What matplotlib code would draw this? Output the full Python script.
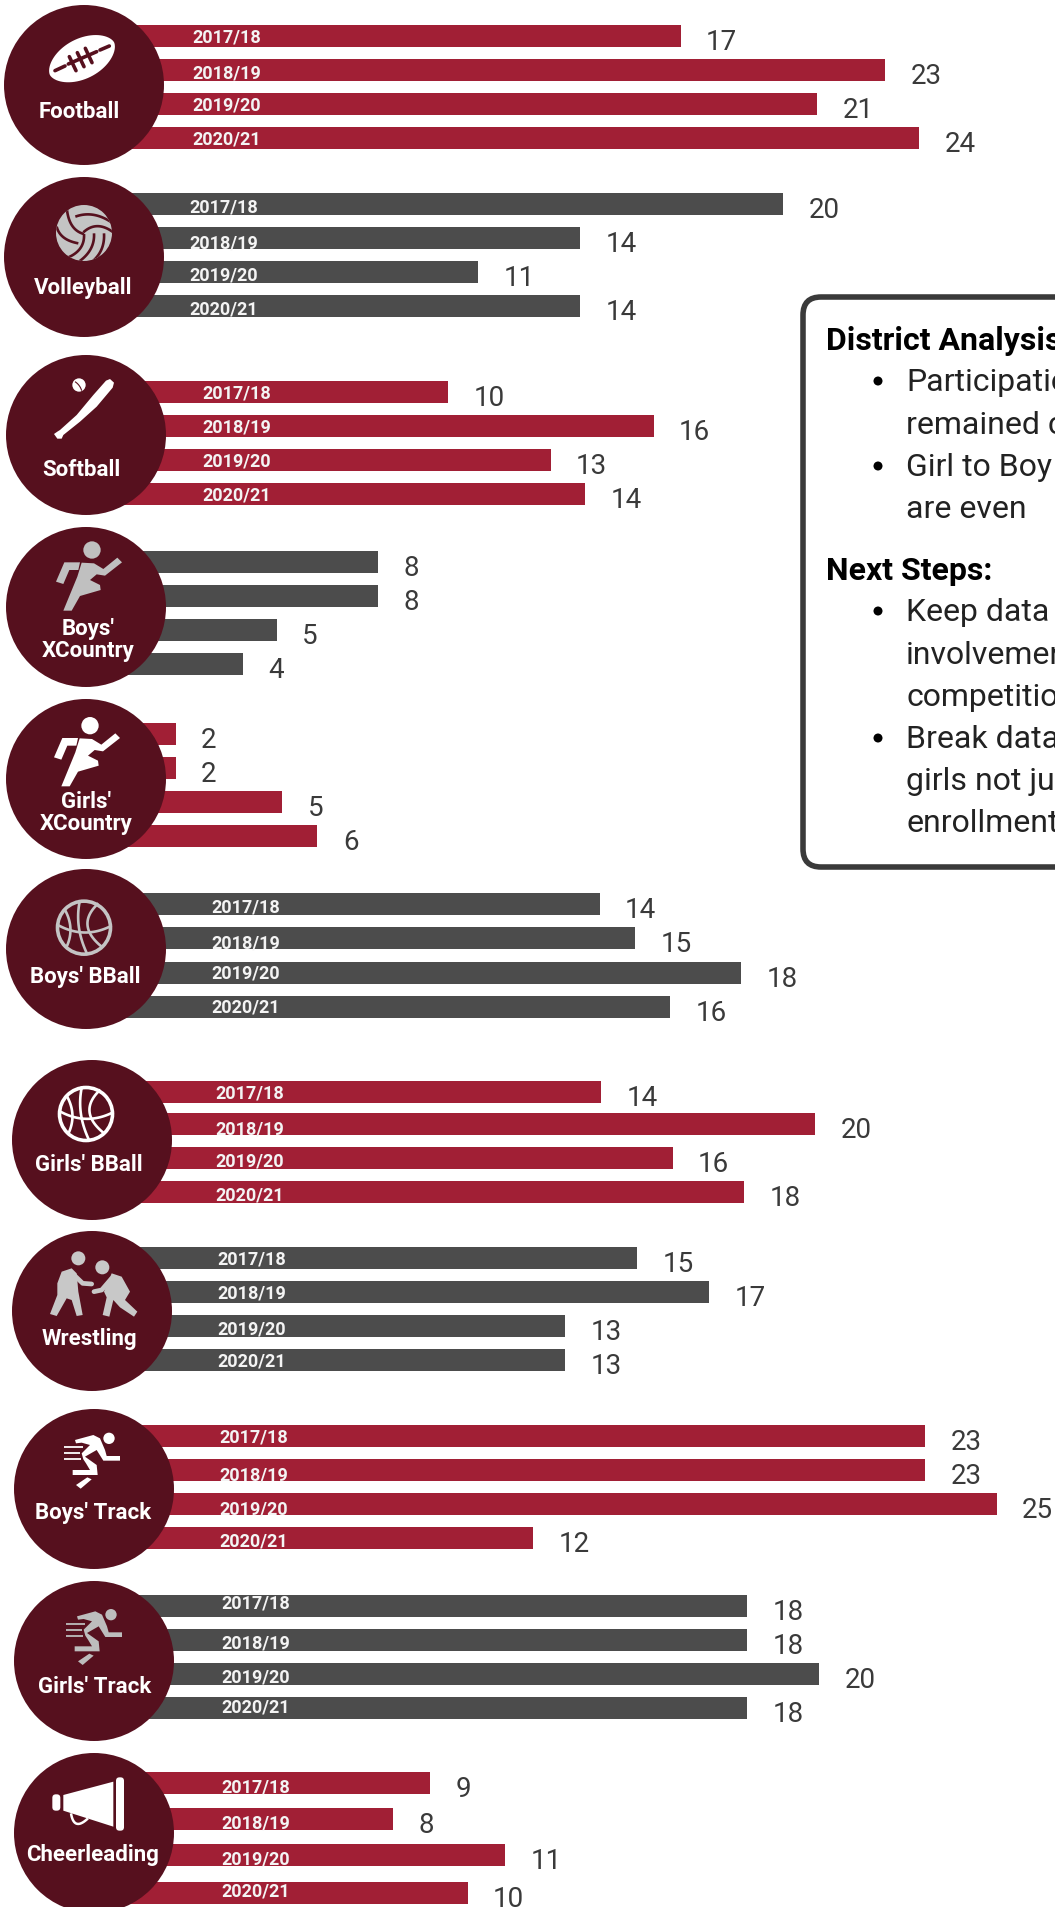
import numpy as np
import matplotlib
matplotlib.use('Agg')
import matplotlib.pyplot as plt
from matplotlib.patches import Circle, Polygon, FancyBboxPatch

W, H = 1055, 1907

# data
sports = ["Football", "Volleyball", "Softball", "Boys'\nXCountry", "Girls'\nXCountry",
          "Boys' BBall", "Girls' BBall", "Wrestling", "Boys' Track", "Girls' Track", "Cheerleading"]
seasons = ["2017/18", "2018/19", "2019/20", "2020/21"]
football = [17, 23, 21, 24]
volleyball = [20, 14, 11, 14]
softball = [10, 16, 13, 14]
boys_xc = [8, 8, 5, 4]
girls_xc = [2, 2, 5, 6]
boys_bball = [14, 15, 18, 16]
girls_bball = [14, 20, 16, 18]
wrestling = [15, 17, 13, 13]
boys_track = [23, 23, 25, 12]
girls_track = [18, 18, 20, 18]
cheer = [9, 8, 11, 10]
values = [football, volleyball, softball, boys_xc, girls_xc, boys_bball,
          girls_bball, wrestling, boys_track, girls_track, cheer]

# layout in pixels
RED, GREY, MAROON = '#a11f35', '#4c4c4c', '#56101e'
bar_colors = [RED, GREY, RED, GREY, RED, GREY, RED, GREY, RED, GREY, RED]
icon_colors = ['white', '#c4c4c4', 'white', '#c0c0c0', 'white', '#c4c4c4', 'white', '#c8c8c8', 'white', '#bdbdbd', 'white']
zero_x = [101, 106, 105.5, 108, 105, 105.5, 103, 97, 105.5, 99, 94.5]
per_unit = [34.1, 33.85, 34.25, 33.7, 35.4, 35.3, 35.6, 36, 35.65, 36, 37.3]
bar_y = [[36, 70, 104, 138], [204, 238, 272, 306], [392, 426, 460, 494], [562, 596, 630, 664],
         [734, 768, 802, 836], [904, 938, 973, 1007], [1092, 1124, 1158, 1192], [1258, 1292, 1326, 1360],
         [1436, 1470, 1504, 1538], [1606, 1640, 1674, 1708], [1783, 1819, 1855, 1893]]
circle_xy = [(84, 85), (84, 257), (86, 435), (86, 607), (86, 779), (86, 949),
             (92, 1140), (92, 1311), (94, 1489), (94, 1661), (94, 1833)]
year_x = [192, 189, 202, None, None, 211, 215, 217, 219, 221, 221]
year_y = [[38, 74, 106, 140], [208, 244, 276, 310], [393, 428, 461, 495], None, None,
          [907, 943, 974, 1008], [1094, 1130, 1162, 1196], [1260, 1294, 1330, 1362],
          [1438, 1476, 1510, 1542], [1604, 1644, 1678, 1708], [1788, 1824, 1860, 1892]]
label_x = [79, 83, 81, 88, 86, 85, 89, 89, 93, 95, 93]
label_y = [112, 288, 470, 640, 813, 977, 1165, 1339, 1513, 1687, 1855]

plt.rcParams['font.family'] = ['Roboto', 'DejaVu Sans']
fig = plt.figure(figsize=(W / 100, H / 100), dpi=100)

for i, vals in enumerate(values):
    ax = fig.add_axes([zero_x[i] / W, 0, (W - zero_x[i]) / W, 1], zorder=1)
    ax.set_xlim(0, (W - zero_x[i]) / per_unit[i])
    ax.set_ylim(H, 0)
    ax.axis('off')
    ax.barh(bar_y[i], vals, height=22, color=bar_colors[i])
    for v, y in zip(vals, bar_y[i]):
        ax.annotate(str(v), (v, y), xytext=(18.3, -4.4), textcoords='offset points', fontsize=20,
                    color='#3a3a3a', va='center', annotation_clip=False)

over = fig.add_axes([0, 0, 1, 1], zorder=2)
over.set_xlim(0, W)
over.set_ylim(H, 0)
over.axis('off')


# icon shapes are traced in 3x crop coordinates, ox/oy is the crop origin
def pts(p, ox, oy):
    p = np.array(p, dtype=float)
    return np.column_stack([ox + p[:, 0] / 3, oy + p[:, 1] / 3])


def poly(p, ox, oy, c):
    over.add_patch(Polygon(pts(p, ox, oy), closed=True, color=c, lw=0))


def line(p, ox, oy, c, lw, cap='butt'):
    q = pts(p, ox, oy)
    return over.plot(q[:, 0], q[:, 1], color=c, lw=lw, solid_capstyle=cap, solid_joinstyle='round')[0]


def curve(a, b, ctrl, ox, oy, c, lw):
    t = np.linspace(0, 1, 30)[:, None]
    a, b, ctrl = np.array(a), np.array(b), np.array(ctrl)
    return line((1 - t) ** 2 * a + 2 * t * (1 - t) * ctrl + t ** 2 * b, ox, oy, c, lw)


def dot(x, y, r, ox, oy, c):
    over.add_patch(Circle((ox + x / 3, oy + y / 3), r / 3, color=c, lw=0))


def football_icon(c):
    t = np.linspace(0, 2 * np.pi, 80)
    a, b = 108, 60
    u = a * np.cos(t)
    v = b * np.sign(np.sin(t)) * np.abs(np.sin(t)) ** 1.15
    ang = np.radians(-27)
    poly(np.column_stack([246 + u * np.cos(ang) - v * np.sin(ang), 176 + u * np.sin(ang) + v * np.cos(ang)]), 0, 0, c)
    line([(165, 212), (195, 198)], 0, 0, MAROON, 2.6, 'round')
    line([(205, 192), (290, 155)], 0, 0, MAROON, 2.6, 'round')
    line([(300, 150), (328, 138)], 0, 0, MAROON, 2.6, 'round')
    for a0, b0 in [((208, 170), (228, 212)), ((232, 158), (252, 200)), ((256, 145), (276, 188))]:
        line([a0, b0], 0, 0, MAROON, 2.6, 'round')


def volleyball_icon(c):
    dot(252, 699, 84, 0, 0, c)
    seams = [((252, 702), (200, 620), (205, 690)), ((235, 730), (170, 680), (180, 720)),
             ((250, 697), (340, 697), (290, 660)), ((226, 650), (336, 668), (280, 630)),
             ((252, 702), (205, 772), (255, 750)), ((282, 700), (238, 784), (285, 750)),
             ((312, 700), (280, 782), (315, 750))]
    clip = Circle((84, 233), 28, transform=over.transData)
    for a, b, m in seams:
        curve(a, b, m, 0, 0, MAROON, 1.9).set_clip_path(clip)


def bat_icon(c):
    poly([(318, 92), (330, 87), (342, 98), (338, 113), (290, 170), (240, 215), (190, 255), (185, 266), (172, 266),
          (162, 252), (172, 245), (180, 240), (230, 195), (280, 135)], 0, 350, c)
    dot(237, 105, 20, 0, 350, c)
    curve((225, 95), (245, 122), (240, 105), 0, 350, MAROON, 0.8)


def runner_icon(ox, oy, c):
    dot(276, 90, 26, ox, oy, c)
    poly([(240, 127), (193, 127), (168, 185), (190, 192), (208, 150), (235, 150)], ox, oy, c)
    poly([(245, 128), (282, 130), (310, 147), (352, 113), (366, 127), (315, 167), (290, 163), (270, 180),
          (300, 195), (302, 210), (240, 228), (215, 272), (190, 272), (232, 170)], ox, oy, c)


def basketball_icon(ox, oy, c):
    ic = (ox + 252 / 3, oy + 188 / 3)
    over.add_patch(Circle(ic, 26.5, fc='none', ec=c, lw=2.6))
    curve((170, 178), (335, 182), (252, 225), ox, oy, c, 1.9)
    curve((195, 135), (200, 245), (225, 190), ox, oy, c, 1.9)
    curve((240, 105), (262, 268), (222, 185), ox, oy, c, 1.9)
    curve((295, 115), (305, 245), (225, 180), ox, oy, c, 1.9)


def wrestling_icon(c):
    ox, oy = 0, 1220
    dot(235, 115, 21, ox, oy, c)
    dot(307, 142, 21, ox, oy, c)
    poly([(215, 145), (230, 160), (235, 215), (248, 285), (230, 288), (215, 240), (200, 235), (170, 288),
          (150, 282), (172, 225), (172, 190), (185, 155)], ox, oy, c)
    line([(222, 165), (248, 190), (275, 192)], ox, oy, c, 3.4, 'round')
    poly([(335, 160), (365, 170), (390, 215), (375, 240), (412, 275), (402, 290), (360, 262), (340, 240),
          (328, 290), (308, 285), (320, 232), (312, 215)], ox, oy, c)
    line([(335, 175), (305, 210), (282, 215)], ox, oy, c, 3.4, 'round')


def track_icon(ox, oy, c):
    dot(327, 655, 17, ox, oy, c)
    poly([(225, 660), (280, 645), (300, 655), (315, 690), (320, 708), (360, 708), (360, 722), (310, 722),
          (290, 690), (255, 710), (290, 735), (293, 765), (218, 765), (218, 750), (270, 750), (258, 730),
          (250, 718), (245, 700), (270, 675), (245, 668), (228, 670)], ox, oy, c)
    for yy, x1 in [(682, 248), (700, 240), (718, 242)]:
        line([(192, yy), (x1, yy)], ox, oy, c, 1.3)
    poly([(228, 795), (262, 772), (275, 778), (242, 806)], ox, oy, c)


def megaphone_icon(c):
    ox, oy = 0, 1560
    poly([(190, 705), (340, 665), (340, 800), (190, 752)], ox, oy, c)
    for x0, x1, y0, y1 in [(157, 181, 703, 752), (348, 372, 652, 812)]:
        over.add_patch(FancyBboxPatch((x0 / 3 + ox, y0 / 3 + oy), (x1 - x0) / 3, (y1 - y0) / 3,
                                      boxstyle='round,pad=0,rounding_size=3.5', color=c, lw=0))
    t = np.linspace(0, 1, 20)[:, None]
    a, m, b = np.array((213, 760)), np.array((222, 815)), np.array((264, 775))
    line((1 - t) ** 2 * a + 2 * t * (1 - t) * m + t ** 2 * b, ox, oy, c, 1.8)


draw_icons = [lambda c: football_icon(c), lambda c: volleyball_icon(c), lambda c: bat_icon(c),
              lambda c: runner_icon(0, 520, c), lambda c: runner_icon(-2, 695.67, c),
              lambda c: basketball_icon(0, 865, c), lambda c: basketball_icon(2, 1051.33, c),
              lambda c: wrestling_icon(c), lambda c: track_icon(0, 1220, c),
              lambda c: track_icon(2, 1396.33, c), lambda c: megaphone_icon(c)]

for i, (cx, cy) in enumerate(circle_xy):
    over.add_patch(Circle((cx, cy), 80, color=MAROON, lw=0))
    draw_icons[i](icon_colors[i])
    over.text(label_x[i], label_y[i], sports[i], color='white', fontsize=16, fontweight='bold',
              ha='center', va='center', linespacing=1.0)
    if year_x[i] is not None:
        for s, y in zip(seasons, year_y[i]):
            over.text(year_x[i], y, s, color='#f4f4f4', fontsize=13, fontweight='bold', va='center')

# text panel
over.add_patch(FancyBboxPatch((803, 297), 330, 570, boxstyle='round,pad=0,rounding_size=18',
                              fc='white', ec='#3a3a3a', lw=4))
heads = [("District Analysis", 350), ("Next Steps:", 580)]
for t, y in heads:
    over.text(826, y, t, fontsize=23, fontweight='bold', color='black', va='baseline')
lines = [("Participation", 391, True), ("remained c", 434, False), ("Girl to Boy", 476, True), ("are even", 518, False),
         ("Keep data", 621, True), ("involvement", 664, False), ("competition", 706, False),
         ("Break data", 748, True), ("girls not ju", 790, False), ("enrollment", 832, False)]
for t, y, bullet in lines:
    over.text(906, y, t, fontsize=23, color='#222222', va='baseline')
    if bullet:
        over.add_patch(Circle((878, y - 10), 4.5, color='black', lw=0))

fig.savefig('out.png', dpi=100)
